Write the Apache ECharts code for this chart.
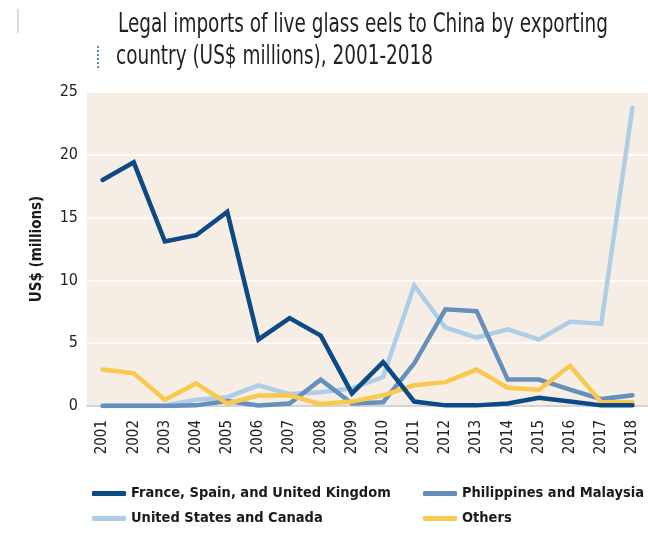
<!DOCTYPE html>
<html><head><meta charset="utf-8">
<script src="https://cdn.jsdelivr.net/npm/echarts@6/dist/echarts.min.js"></script>
<style>html,body{margin:0;padding:0;background:#fff}#c{width:648px;height:535px}</style>
</head><body><div id="c"></div>
<script>
const years = ['2001','2002','2003','2004','2005','2006','2007','2008','2009','2010','2011','2012','2013','2014','2015','2016','2017','2018'];
const franceSpainUK = [18.0,19.4,13.1,13.6,15.45,5.3,7.0,5.6,1.0,3.5,0.35,0.05,0.05,0.2,0.65,0.35,0.05,0.05];
const philippinesMalaysia = [0.0,0.0,0.0,0.05,0.4,0.05,0.2,2.1,0.2,0.3,3.4,7.7,7.55,2.1,2.1,1.3,0.55,0.85];
const usCanada = [0.05,0.05,0.05,0.5,0.7,1.65,0.95,1.1,1.4,2.3,9.6,6.25,5.45,6.1,5.3,6.7,6.55,23.75];
const others = [2.9,2.6,0.5,1.8,0.2,0.83,0.85,0.15,0.35,0.85,1.65,1.9,2.9,1.45,1.3,3.2,0.3,0.3];
const yTicks = [0,5,10,15,20,25];
const titleLines = ['Legal imports of live glass eels to China by exporting','country (US$ millions), 2001-2018'];

const names = ['France, Spain, and United Kingdom','Philippines and Malaysia','United States and Canada','Others'];
const colors = ['#0b4a85','#6490bb','#afcde6','#f8c84f'];
const dataSets = [franceSpainUK, philippinesMalaysia, usCanada, others];
const font = "'Liberation Sans Narrow','DejaVu Sans Condensed','Liberation Sans',sans-serif";
const lfont = "'DejaVu Sans Condensed','Liberation Sans Narrow',sans-serif";

// horizontal squeeze so the title line fits its measured width in the reference
const ctx = document.createElement('canvas').getContext('2d');
const tSize = 27;
ctx.font = tSize + 'px ' + font;
const tScale = 490 / ctx.measureText(titleLines[0]).width;

const chart = echarts.init(document.getElementById('c'));
const legendPos = [[87,481],[418,481],[87,506],[418,506]];
chart.setOption({
  backgroundColor:'#ffffff',
  animation:false,
  graphic:[
    {type:'line', shape:{x1:18,y1:9,x2:18,y2:33}, style:{stroke:'#bbbbbb', lineWidth:1}},
    {type:'line', shape:{x1:98,y1:46,x2:98,y2:68}, style:{stroke:'#5b8fc0', lineWidth:2, lineDash:[2,2]}},
    {type:'text', x:118, y:25, scaleX:tScale, style:{text:titleLines[0], font:tSize+'px '+font, fill:'#231f20', textVerticalAlign:'middle'}},
    {type:'text', x:116, y:57, scaleX:tScale, style:{text:titleLines[1], font:tSize+'px '+font, fill:'#231f20', textVerticalAlign:'middle'}}
  ],
  legend: names.map((n,i)=>({
    data:[n], left:legendPos[i][0], top:legendPos[i][1],
    icon:'roundRect', itemWidth:34, itemHeight:5, itemGap:8,
    textStyle:{fontFamily:lfont, fontSize:14.5, fontWeight:'bold', color:'#1a1a1a'}
  })),
  grid:{left:87, right:0, top:92, bottom:129, show:true, backgroundColor:'#f6eee5', borderWidth:0},
  xAxis:{
    type:'category', data:years, boundaryGap:true,
    axisLine:{lineStyle:{color:'#c8c8c8', width:1.5}},
    axisTick:{show:false},
    axisLabel:{rotate:90, fontFamily:lfont, fontSize:15, color:'#222', margin:14, interval:0}
  },
  yAxis:{
    type:'value', min:0, max:25, interval:5,
    name:'US$ (millions)', nameLocation:'middle', nameGap:42, nameRotate:90,
    nameTextStyle:{fontFamily:lfont, fontSize:15, fontWeight:'bold', color:'#1a1a1a'},
    axisLine:{show:false}, axisTick:{show:false},
    axisLabel:{fontFamily:lfont, fontSize:16, color:'#222', margin:9,
      formatter:v=>yTicks.includes(v)?String(v):''},
    splitLine:{lineStyle:{color:'#ffffff', width:1.5}}
  },
  series: names.map((n,i)=>({
    name:n, type:'line', data:dataSets[i], symbol:'none',
    lineStyle:{color:colors[i], width:4.5, cap:'round', join:'miter'},
    itemStyle:{color:colors[i]},
    z: [5,3,2,4][i]
  }))
});
</script></body></html>
